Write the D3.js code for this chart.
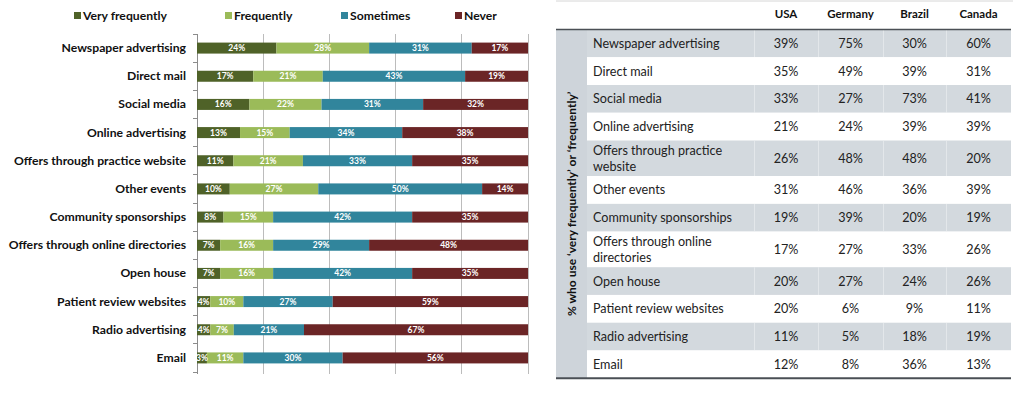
<!DOCTYPE html>
<html>
<head>
<meta charset="utf-8">
<script src="https://cdn.jsdelivr.net/npm/d3@7"></script>
<style>
  body { margin: 0; background: #fff; }
  svg { display: block; font-family: Lato, "Open Sans", sans-serif; }
</style>
</head>
<body>
<div id="chart"></div>
<script>
// ---- data ----
const categories = ["Newspaper advertising", "Direct mail", "Social media", "Online advertising",
    "Offers through practice website", "Other events", "Community sponsorships",
    "Offers through online directories", "Open house", "Patient review websites",
    "Radio advertising", "Email"];
const seriesNames = ["Very frequently", "Frequently", "Sometimes", "Never"];
const veryFrequently = [24, 17, 16, 13, 11, 10, 8, 7, 7, 4, 4, 3];
const frequently = [28, 21, 22, 15, 21, 27, 15, 16, 16, 10, 7, 11];
const sometimes = [31, 43, 31, 34, 33, 50, 42, 29, 42, 27, 21, 30];
const never = [17, 19, 32, 38, 35, 14, 35, 48, 35, 59, 67, 56];
const xTicks = [0, 0.2, 0.4, 0.6, 0.8, 1];

const countries = ["USA", "Germany", "Brazil", "Canada"];
const tableLabels = [["Newspaper advertising"], ["Direct mail"], ["Social media"], ["Online advertising"],
    ["Offers through practice", "website"], ["Other events"], ["Community sponsorships"],
    ["Offers through online", "directories"], ["Open house"], ["Patient review websites"],
    ["Radio advertising"], ["Email"]];
const usa = [39, 35, 33, 21, 26, 31, 19, 17, 20, 20, 11, 12];
const germany = [75, 49, 27, 24, 48, 46, 39, 27, 27, 6, 5, 8];
const brazil = [30, 39, 73, 39, 48, 36, 20, 33, 24, 9, 18, 36];
const canada = [60, 31, 41, 39, 20, 39, 19, 26, 26, 11, 19, 13];
const sideLabel = "% who use \u2018very frequently\u2019 or \u2018frequently\u2019";

const colors = ["#4f6228", "#9bbb59", "#31859c", "#6b2526"];

const svg = d3.select("#chart").append("svg")
    .attr("width", 1024)
    .attr("height", 395);

// ---- stacked bar chart ----
const rows = categories.map((c, i) => {
    const vals = [veryFrequently[i], frequently[i], sometimes[i], never[i]];
    const total = d3.sum(vals);
    let acc = 0;
    return {
        cat: c,
        segs: vals.map((v, k) => {
            const s = { key: k, value: v, x0: acc / total, x1: (acc + v) / total };
            acc += v;
            return s;
        })
    };
});

const x = d3.scaleLinear().domain([0, 1]).range([197, 528]);
const y = d3.scaleBand().domain(categories).range([34, 372]);
const barH = 11;

// gridlines
svg.append("g").selectAll("line")
    .data(xTicks)
    .join("line")
    .attr("x1", d => x(d)).attr("x2", d => x(d))
    .attr("y1", 34).attr("y2", 374)
    .attr("stroke", d => d === 0 ? "#8c8c8c" : "#bcbcbc")
    .attr("stroke-width", 1)
    .attr("shape-rendering", "crispEdges");

// category tick marks
svg.append("g").selectAll("line")
    .data(d3.range(categories.length + 1))
    .join("line")
    .attr("x1", 193).attr("x2", 197)
    .attr("y1", i => 34 + i * y.step()).attr("y2", i => 34 + i * y.step())
    .attr("stroke", "#8c8c8c")
    .attr("shape-rendering", "crispEdges");

// category labels
svg.append("g").selectAll("text")
    .data(categories)
    .join("text")
    .attr("x", 186)
    .attr("y", d => y(d) + y.bandwidth() / 2 + 4)
    .attr("text-anchor", "end")
    .attr("font-size", 12.2)
    .attr("font-weight", "bold")
    .attr("fill", "#111")
    .text(d => d);

const barG = svg.append("g").selectAll("g")
    .data(rows)
    .join("g")
    .attr("transform", d => `translate(0,${y(d.cat) + (y.bandwidth() - barH) / 2})`);

barG.selectAll("rect")
    .data(d => d.segs)
    .join("rect")
    .attr("x", d => x(d.x0))
    .attr("width", d => x(d.x1) - x(d.x0))
    .attr("height", barH)
    .attr("fill", d => colors[d.key]);

barG.selectAll("text")
    .data(d => d.segs)
    .join("text")
    .attr("x", d => (x(d.x0) + x(d.x1)) / 2)
    .attr("y", barH / 2 + 3)
    .attr("text-anchor", "middle")
    .attr("font-size", 8.5)
    .attr("font-weight", "bold")
    .attr("fill", "#fff")
    .text(d => d.value + "%");

// legend
const legendX = [74, 225, 341, 455];
const legend = svg.append("g").selectAll("g")
    .data(seriesNames)
    .join("g")
    .attr("transform", (d, i) => `translate(${legendX[i]},16)`);
legend.append("rect")
    .attr("x", 0).attr("y", -4)
    .attr("width", 7).attr("height", 7)
    .attr("fill", (d, i) => colors[i]);
legend.append("text")
    .attr("x", 9).attr("y", 4)
    .attr("font-size", 12.2)
    .attr("font-weight", "bold")
    .attr("fill", "#111")
    .text(d => d);

// ---- table ----
const tbl = svg.append("g");
const tLeft = 556, tRight = 1011, labelX = 587;
const colEdges = [754, 818, 883, 946, 1011];
const headerY = 29.5;
const rowH = tableLabels.map(l => l.length > 1 ? 35.6 : 27.75);
const rowY = [];
rowH.reduce((acc, h) => { rowY.push(acc); return acc + h; }, headerY);
const tBottom = rowY[rowY.length - 1] + rowH[rowH.length - 1];
const grey = "#d3d9de";

// frame top line
tbl.append("line")
    .attr("x1", tLeft).attr("x2", tRight + 2)
    .attr("y1", 1).attr("y2", 1)
    .attr("stroke", "#d6d6d6");

// side column
tbl.append("rect")
    .attr("x", tLeft).attr("y", headerY)
    .attr("width", labelX - tLeft).attr("height", tBottom - headerY)
    .attr("fill", "#ced4da");

tbl.append("text")
    .attr("transform", `translate(${(tLeft + labelX) / 2 + 4},${(headerY + tBottom) / 2}) rotate(-90)`)
    .attr("text-anchor", "middle")
    .attr("font-size", 12)
    .attr("font-weight", "bold")
    .attr("fill", "#111")
    .text(sideLabel);

const tableData = tableLabels.map((l, i) => ({ label: l, vals: [usa[i], germany[i], brazil[i], canada[i]], i }));

const rowG = tbl.selectAll("g.row")
    .data(tableData)
    .join("g")
    .attr("class", "row")
    .attr("transform", d => `translate(0,${rowY[d.i]})`);

rowG.append("rect")
    .attr("x", labelX).attr("y", 0)
    .attr("width", tRight - labelX)
    .attr("height", d => rowH[d.i])
    .attr("fill", d => d.i % 2 === 0 ? grey : "#fff");

// faint column separators in grey rows
rowG.filter(d => d.i % 2 === 0).selectAll("line")
    .data(d => colEdges.slice(0, 4).map(e => ({ e, h: rowH[d.i] })))
    .join("line")
    .attr("x1", d => d.e).attr("x2", d => d.e)
    .attr("y1", 0).attr("y2", d => d.h)
    .attr("stroke", "#e3e7ea")
    .attr("shape-rendering", "crispEdges");

rowG.append("text")
    .attr("font-size", 12.6)
    .attr("fill", "#222")
    .selectAll("tspan")
    .data(d => d.label.map(t => ({ t, n: d.label.length, h: rowH[d.i] })))
    .join("tspan")
    .attr("x", 593)
    .attr("y", (d, k) => d.h / 2 + 4.5 + (k - (d.n - 1) / 2) * 16)
    .text(d => d.t);

rowG.selectAll("text.val")
    .data(d => d.vals.map((v, k) => ({ v, k, h: rowH[d.i] })))
    .join("text")
    .attr("class", "val")
    .attr("x", d => (colEdges[d.k] + colEdges[d.k + 1]) / 2)
    .attr("y", d => d.h / 2 + 4.5)
    .attr("text-anchor", "middle")
    .attr("font-size", 12.6)
    .attr("fill", "#222")
    .text(d => d.v + "%");

// header
tbl.selectAll("text.head")
    .data(countries)
    .join("text")
    .attr("class", "head")
    .attr("x", (d, k) => (colEdges[k] + colEdges[k + 1]) / 2)
    .attr("y", 18)
    .attr("text-anchor", "middle")
    .attr("font-size", 11.5)
    .attr("font-weight", "bold")
    .attr("fill", "#111")
    .text(d => d);

tbl.append("line")
    .attr("x1", tLeft).attr("x2", tRight)
    .attr("y1", headerY).attr("y2", headerY)
    .attr("stroke", "#4a4f55").attr("stroke-width", 1.5);
tbl.append("line")
    .attr("x1", tLeft).attr("x2", tRight)
    .attr("y1", tBottom).attr("y2", tBottom)
    .attr("stroke", "#4a4f55").attr("stroke-width", 2);
</script>
</body>
</html>
